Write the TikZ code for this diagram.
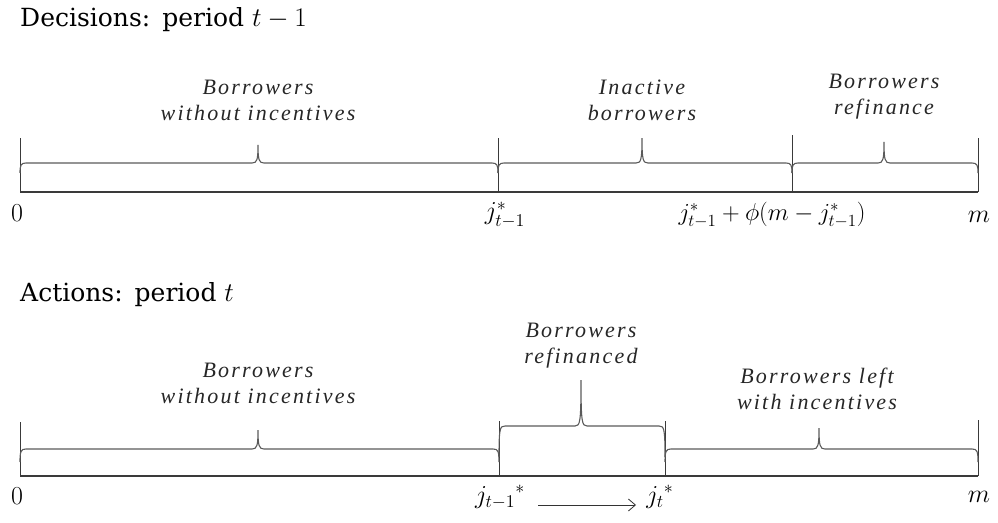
\documentclass[tikz,border=0pt]{standalone}
\usepackage{fontspec}
\setmainfont{Liberation Serif}
\newfontfamily\labfont[LetterSpace=10]{Liberation Serif}
\newfontfamily\titlefont{DejaVu Serif}
\usetikzlibrary{arrows.meta}
\definecolor{bracegray}{HTML}{5A5A5A}
\definecolor{axisgray}{HTML}{3A3A3A}
\newcommand\mybrace[6]{% x0 x1 xm yline ytip yend
  \draw[bracegray,line width=1.1pt] (#1,#6) .. controls (#1,#4+2) and (#1+1,#4) .. (#1+6,#4)
    -- (#3-6,#4) .. controls (#3-1,#4) and (#3,#4-3) .. (#3,#5)
    .. controls (#3,#4-3) and (#3+1,#4) .. (#3+6,#4)
    -- (#2-6,#4) .. controls (#2-1,#4) and (#2,#4+2) .. (#2,#6);}
\newcommand\bigmath[2]{{\fontsize{20.74}{25}\selectfont\scalebox{#1}{$#2$}}}
\begin{document}
\begin{tikzpicture}[x=1pt,y=-1pt,
  lab/.style={font=\labfont\itshape\fontsize{22}{26}\selectfont,align=center,text=black!85,inner sep=0pt},
  title/.style={font=\titlefont\fontsize{25}{30}\selectfont,anchor=base west,inner sep=0pt},
  mlab/.style={inner sep=0pt},
  axis/.style={axisgray,line width=1.1pt},
  tick/.style={axisgray,line width=1pt}]
\useasboundingbox (0,0) rectangle (998,522);
% ---------- top ----------
\node[title] (t1) at (20,26) {Decisions:\hspace{12pt}period \bigmath{1.3}{t-1}};
\coordinate (a0) at (20,192); \coordinate (a1) at (498,192);
\coordinate (a2) at (792,192); \coordinate (a3) at (978,192);
\coordinate (b0) at (20,138); \coordinate (b1) at (498,138);
\coordinate (b2) at (792,135); \coordinate (b3) at (978,138);
\draw[axis] (a0) -- (a3);
\foreach \i in {0,1,2,3} {\draw[tick] (a\i) -- (b\i);}
\mybrace{20}{498}{258}{163}{145}{173}
\mybrace{498}{792}{642}{163}{138}{173}
\mybrace{792}{978}{884}{163}{142}{173}
\node[lab] (l1) at (258,100) {Borrowers\\without incentives};
\node[lab] (l2) at (642,100) {Inactive\\borrowers};
\node[lab] (l3) at (884,97) {Borrowers\\refinance};
\node[mlab] (z1) at (17,213) {\bigmath{1.25}{0}};
\node[mlab] (j1) at (505,215) {\bigmath{1.25}{j^*_{t-1}}};
\node[mlab] (j2) at (772,215) {\bigmath{1.18}{j^*_{t-1}+\phi(m-j^*_{t-1})}};
\node[mlab] (m1) at (979,217) {\bigmath{1.25}{m}};
% ---------- bottom ----------
\node[title] (t2) at (20,301) {Actions:\hspace{12pt}period \bigmath{1.3}{t}};
\coordinate (c0) at (20,476); \coordinate (c1) at (499,476);
\coordinate (c2) at (665,476); \coordinate (c3) at (978,476);
\coordinate (d0) at (20,422); \coordinate (d1) at (499,421);
\coordinate (d2) at (665,421); \coordinate (d3) at (978,420);
\draw[axis] (c0) -- (c3);
\foreach \i in {0,1,2,3} {\draw[tick] (c\i) -- (d\i);}
\mybrace{20}{499}{258}{449}{430}{462}
\mybrace{499}{665}{581}{426}{380}{457}
\mybrace{665}{978}{819}{449}{428}{462}
\node[lab] (l4) at (258,383) {Borrowers\\without incentives};
\node[lab] (l5) at (581,346) {Borrowers\\refinanced};
\node[lab] (l6) at (817,389) {Borrowers left\\with incentives};
\node[mlab] (z2) at (17,496) {\bigmath{1.25}{0}};
\node[mlab] (j3) at (500,497) {\bigmath{1.25}{{j_{t-1}}^*}};
\node[mlab] (j4) at (660,497) {\bigmath{1.25}{{j_t}^*}};
\node[mlab] (m2) at (979,497) {\bigmath{1.25}{m}};
\coordinate (ar0) at (538,505);
\coordinate (ar1) at (636,505);
\draw[-{Straight Barb[length=7pt,width=12pt]},black!80,line width=0.8pt] (ar0) -- (ar1);
\end{tikzpicture}
\end{document}
